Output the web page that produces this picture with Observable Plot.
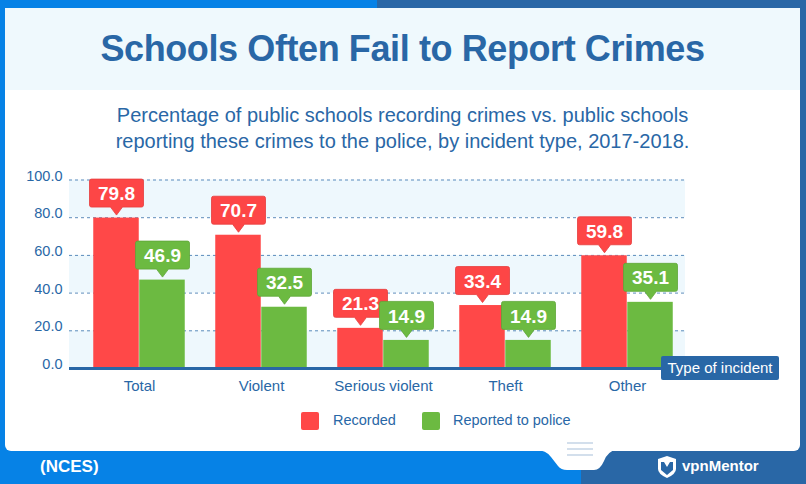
<!DOCTYPE html>
<html>
<head>
<meta charset="utf-8">
<script src="https://cdn.jsdelivr.net/npm/d3@7"></script>
<script src="https://cdn.jsdelivr.net/npm/@observablehq/plot@0.6"></script>
<style>
  html, body { margin: 0; padding: 0; background: #fff; }
  #wrap { position: relative; width: 806px; height: 484px; overflow: hidden; font-family: "Liberation Sans", Arial, sans-serif; background: #0682e6; }
  .abs { position: absolute; }
  #title { position: absolute; left: 5px; top: 8px; width: 795px; height: 82px; background: #eff9fd; color: #2967a6; font-weight: bold; font-size: 36px; text-align: center; line-height: 82px; letter-spacing: -0.4px; }
  #subtitle { position: absolute; left: 5px; top: 102px; width: 795px; text-align: center; color: #2967a6; font-size: 20px; line-height: 26px; }
  #chart { position: absolute; left: 0; top: 160px; }
  .leg { position: absolute; top: 411px; font-size: 14.5px; color: #2967a6; line-height: 19px; }
  .sw { position: absolute; top: 412px; width: 18px; height: 18px; border-radius: 2px; }
</style>
</head>
<body>
<div id="wrap">
  <div class="abs" style="left:377px;top:0;width:429px;height:8px;background:#2967a6"></div>
  <div class="abs" style="left:800px;top:0;width:6px;height:484px;background:#2967a6"></div>
  <div class="abs" style="left:581px;top:440px;width:225px;height:44px;background:#2967a6"></div>
  <div class="abs" style="left:5px;top:8px;width:795px;height:443px;background:#fff;border-radius:0 0 6px 6px"></div>
  <svg class="abs" style="left:0;top:0" width="806" height="484">
    <path d="M536,450 Q546,450 551,457 L558,466 Q561,470 567,470 L594,470 Q600,470 604,461 Q608,451 616,450 Z" fill="#fff"/>
    <g stroke="#d3dfec" stroke-width="2">
      <line x1="567" x2="593" y1="443" y2="443"/>
      <line x1="567" x2="593" y1="449" y2="449"/>
      <line x1="567" x2="593" y1="455" y2="455"/>
    </g>
    <path d="M667,456 L676,459 L676,469 Q676,474 667,478 Q658,474 658,469 L658,459 Z" fill="#fff"/>
    <path d="M661,462 L664,462 L667,467 L670,462 L673,462 L673,470 L667,475 L661,470 Z" fill="#2967a6"/>
    <text x="682" y="471" fill="#fff" font-size="15" font-weight="bold" font-family="Liberation Sans, Arial, sans-serif">vpnMentor</text>
    <text x="40" y="472" fill="#fff" font-size="17" font-weight="bold" font-family="Liberation Sans, Arial, sans-serif">(NCES)</text>
  </svg>
  <div id="title">Schools Often Fail to Report Crimes</div>
  <div id="subtitle">Percentage of public schools recording crimes vs. public schools<br>reporting these crimes to the police, by incident type, 2017-2018.</div>
  <div id="chart"></div>
  <div class="abs" style="left:661px;top:356px;width:118px;height:24px;background:#2967a6;border-radius:2px;color:#fff;font-size:15px;line-height:24px;text-align:center">Type of incident</div>
  <div class="sw" style="left:301px;background:#ff4848"></div>
  <div class="leg" style="left:333px">Recorded</div>
  <div class="sw" style="left:422px;background:#6cba41"></div>
  <div class="leg" style="left:453px">Reported to police</div>
</div>
<script>
const categories = ["Total", "Violent", "Serious violent", "Theft", "Other"];
const recorded = [79.8, 70.7, 21.3, 33.4, 59.8];
const reported = [46.9, 32.5, 14.9, 14.9, 35.1];
const yTicks = [0, 20, 40, 60, 80, 100];
const seriesNames = ["Recorded", "Reported to police"];

const RED = "#ff4848", GREEN = "#6cba41", BLUE = "#2967a6";

const recData = categories.map((c, i) => ({category: c, value: recorded[i], series: seriesNames[0]}));
const repData = categories.map((c, i) => ({category: c, value: reported[i], series: seriesNames[1]}));
const bands = yTicks.slice(0, -1).map((t, i) => ({y1: t, y2: yTicks[i + 1], on: i % 2 === 0})).filter(d => d.on);

const callout = {
  draw(ctx) {
    ctx.moveTo(0, 0);
    ctx.lineTo(-6, -8);
    ctx.lineTo(-25, -8);
    ctx.arcTo(-27, -8, -27, -10, 2);
    ctx.lineTo(-27, -34);
    ctx.arcTo(-27, -36, -25, -36, 2);
    ctx.lineTo(25, -36);
    ctx.arcTo(27, -36, 27, -34, 2);
    ctx.lineTo(27, -10);
    ctx.arcTo(27, -8, 25, -8, 2);
    ctx.lineTo(6, -8);
    ctx.closePath();
  }
};

const chart = Plot.plot({
  width: 806,
  height: 240,
  marginLeft: 69,
  marginRight: 121,
  marginTop: 19.5,
  marginBottom: 32,
  style: {fontFamily: "Liberation Sans, Arial, sans-serif", color: BLUE, background: "transparent", overflow: "visible"},
  x: {domain: categories, range: [76.75, 689.25], padding: 0, label: null},
  y: {domain: [0, 100], label: null},
  marks: [
    Plot.rectY(bands, {y1: "y1", y2: "y2", fill: "#eef8fd"}),
    Plot.ruleY(yTicks.slice(1), {stroke: BLUE, strokeDasharray: "3,3", strokeOpacity: 0.75}),
    Plot.barY(recData, {x: "category", y: "value", fill: RED, insetLeft: 15.25, insetRight: 61.25}),
    Plot.barY(repData, {x: "category", y: "value", fill: GREEN, insetLeft: 61.25, insetRight: 15.25}),
    Plot.ruleY([0], {stroke: BLUE, strokeWidth: 3}),
    Plot.axisY(yTicks, {tickSize: 0, tickPadding: 7, tickFormat: d3.format(".1f"), fontSize: 14.5, fill: BLUE, dy: -4, label: null}),
    Plot.axisX({tickSize: 0, tickPadding: 12, fontSize: 15, fill: BLUE, label: null}),
    Plot.dot(recData, {x: "category", y: "value", dx: -23, dy: -3, symbol: callout, fill: "#fd4646", stroke: "#e63c3c", strokeWidth: 0.8}),
    Plot.dot(repData, {x: "category", y: "value", dx: 23, dy: -3, symbol: callout, fill: "#6cba41", stroke: "#5ea637", strokeWidth: 0.8}),
    Plot.text(recData, {x: "category", y: "value", dx: -23, dy: -24, text: d => d.value.toFixed(1), fill: "white", fontSize: 19, fontWeight: "bold"}),
    Plot.text(repData, {x: "category", y: "value", dx: 23, dy: -24, text: d => d.value.toFixed(1), fill: "white", fontSize: 19, fontWeight: "bold"})
  ]
});
document.getElementById("chart").appendChild(chart);
</script>
</body>
</html>
